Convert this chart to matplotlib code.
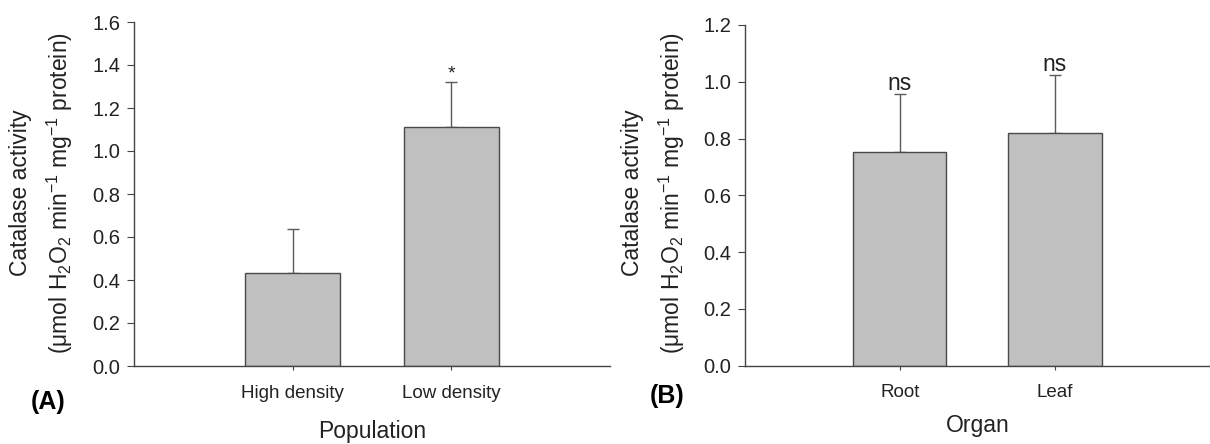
import matplotlib
matplotlib.use("Agg")
import matplotlib.pyplot as plt
import numpy as np

plt.rcParams['font.family'] = ['Liberation Sans', 'DejaVu Sans']
plt.rcParams['mathtext.fontset'] = 'custom'
plt.rcParams['mathtext.rm'] = 'Liberation Sans'
plt.rcParams['mathtext.it'] = 'Liberation Sans:italic'
plt.rcParams['mathtext.bf'] = 'Liberation Sans:bold'

# panel A
pop_labels = ['High density', 'Low density']
pop_means = [0.434, 1.113]
pop_sem = [0.205, 0.207]
pop_marks = ['', '*']

# panel B
organ_labels = ['Root', 'Leaf']
organ_means = [0.752, 0.818]
organ_sem = [0.206, 0.206]
organ_marks = ['ns', 'ns']

W, H = 1210, 444
fig = plt.figure(figsize=(W / 100, H / 100), dpi=100)

bar_col = '#c0c0c0'
edge_col = '#4a4a4a'
txt_col = '#222222'
ylab1 = 'Catalase activity'
ylab2 = r'($\mathrm{\mu}$mol H$_2$O$_2$ min$^{-1}$ mg$^{-1}$ protein)'


def draw_panel(rect, labels, means, sem, marks, ymax, xlabel, tag, tag_xy,
               lab_x, lab_y, mark_size, mark_off):
    ax = fig.add_axes(rect)
    x = np.arange(len(labels))
    ax.bar(x, means, width=0.6, color=bar_col, edgecolor=edge_col,
           linewidth=1.0, zorder=2)
    ax.errorbar(x, means, yerr=[np.zeros(len(means)), sem], fmt='none',
                ecolor='#5a5a5a', elinewidth=1.0, capsize=4, capthick=1.0,
                zorder=1)
    for xi, m, s, t in zip(x, means, sem, marks):
        if t:
            ax.annotate(t, xy=(xi, m + s), xytext=(0, mark_off),
                        textcoords='offset points', ha='center',
                        va='baseline', fontsize=mark_size, color=txt_col)
    ax.set_xlim(-1, 2)
    ax.set_ylim(0, ymax)
    ax.set_yticks(np.arange(0, ymax + 0.01, 0.2))
    ax.set_yticklabels(['%.1f' % v for v in np.arange(0, ymax + 0.01, 0.2)])
    ax.set_xticks(x)
    ax.set_xticklabels(labels)
    for s in ['top', 'right']:
        ax.spines[s].set_visible(False)
    for s in ['left', 'bottom']:
        ax.spines[s].set_color('#444444')
        ax.spines[s].set_linewidth(1.0)
    ax.tick_params(axis='y', length=5, width=0.8, color='#444444', pad=5,
                   labelsize=14.5, labelcolor=txt_col)
    ax.tick_params(axis='x', length=3, width=0.8, color='#444444', pad=10.5,
                   labelsize=13.5, labelcolor=txt_col)
    ax.set_xlabel(xlabel, fontsize=16.5, color=txt_col)
    ax.xaxis.label.set_va('baseline')
    ax.xaxis.set_label_coords(0.5, lab_y)

    # two-line y label
    yc = 1 - 193 / H
    fig.text(lab_x[0] / W, yc, ylab1, rotation=90, ha='center', va='center',
             fontsize=16.5, color=txt_col)
    fig.text(lab_x[1] / W, yc, ylab2, rotation=90, ha='center', va='center',
             fontsize=16.5, color=txt_col)
    fig.text(tag_xy[0] / W, 1 - tag_xy[1] / H, tag, fontsize=18,
             fontweight='bold', ha='left', va='baseline', color='black')
    return ax


draw_panel([134 / W, 78 / H, 476 / W, 344 / H], pop_labels, pop_means,
           pop_sem, pop_marks, 1.6, 'Population', '(A)', (31, 409),
           (21, 60), -0.208, 14, 2.5)
draw_panel([745 / W, 78.3 / H, 465 / W, 340.7 / H], organ_labels,
           organ_means, organ_sem, organ_marks, 1.2, 'Organ', '(B)',
           (650, 403), (632, 672), -0.195, 16.5, 3)

fig.savefig('out.png', dpi=100)
